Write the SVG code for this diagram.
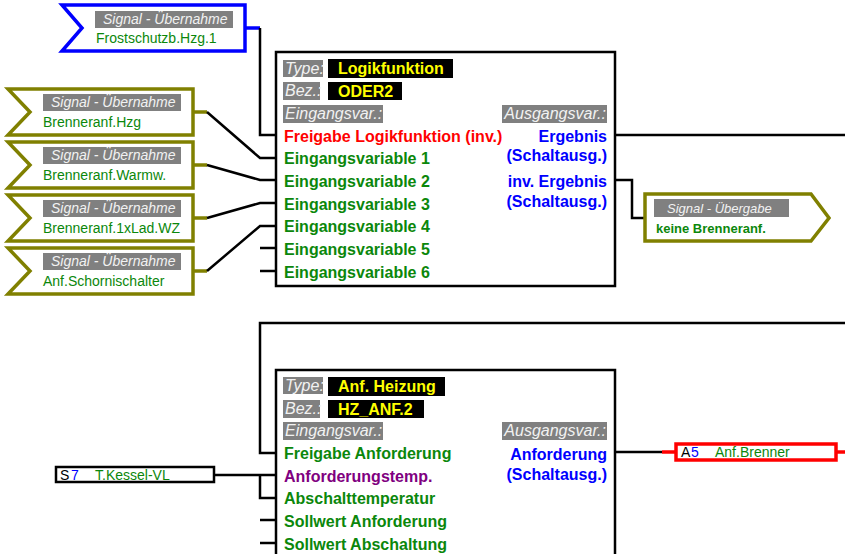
<svg xmlns="http://www.w3.org/2000/svg" width="845" height="554" viewBox="0 0 845 554">
<style>
text{font-family:"Liberation Sans",Arial,sans-serif}
.lbl{fill:#808080}
.lt{font-style:italic;font-size:16px;fill:#f2f2f2}
.st{font-style:italic;font-size:14px;fill:#f2f2f2}
.blk{fill:#000}
.yt{font-weight:bold;font-size:16px;fill:#ffff00}
.in{font-weight:bold;font-size:16px;fill:#0b870b}
.red{font-weight:bold;font-size:16px;fill:#ff0000}
.pur{font-weight:bold;font-size:16px;fill:#800080}
.out{font-weight:bold;font-size:16px;fill:#0000ff;text-anchor:end}
.sig{font-size:14px;fill:#0b870b}
.box{fill:#fff;stroke:#000;stroke-width:2.5}
.olive{fill:#fff;stroke:#808000;stroke-width:3.5}
.blue{fill:#fff;stroke:#0000ff;stroke-width:3.5}
.w{fill:none;stroke:#000;stroke-width:2.5}
.wo{fill:none;stroke:#808000;stroke-width:3.5}
.wb{fill:none;stroke:#0000ff;stroke-width:3.5}
.wr{fill:none;stroke:#ff0000;stroke-width:3.5}
</style>

<g id="connectors">
  <line class="wb" x1="245" y1="28" x2="260" y2="28"/>
  <polyline class="w" points="260,28 260,135 277,135"/>
  <line class="wo" x1="193" y1="112" x2="207" y2="112"/>
  <line class="wo" x1="193" y1="165" x2="207" y2="165"/>
  <line class="wo" x1="193" y1="218" x2="207" y2="218"/>
  <line class="wo" x1="193" y1="271" x2="207" y2="271"/>
  <polyline class="w" points="207,112 260,158 277,158"/>
  <polyline class="w" points="207,165 260,180 277,180"/>
  <polyline class="w" points="207,218 260,203 277,203"/>
  <polyline class="w" points="207,271 260,226 277,226"/>
  <line class="w" x1="260" y1="248" x2="277" y2="248"/>
  <line class="w" x1="260" y1="271" x2="277" y2="271"/>
  <line class="w" x1="615" y1="135" x2="845" y2="135"/>
  <polyline class="w" points="615,180 632,180 632,218 645,218"/>
  <polyline class="w" points="845,323 260,323 260,453 277,453"/>
  <line class="w" x1="214" y1="475" x2="277" y2="475"/>
  <polyline class="w" points="260,475 260,498 277,498"/>
  <line class="w" x1="260" y1="520" x2="277" y2="520"/>
  <line class="w" x1="260" y1="543" x2="277" y2="543"/>
  <line class="w" x1="615" y1="452" x2="662" y2="452"/>
  <line class="wr" x1="662" y1="452" x2="677" y2="452"/>
  <line class="wr" x1="836" y1="452" x2="845" y2="452"/>
</g>

<g id="sig-frostschutz" transform="translate(62,5)">
  <polygon class="blue" points="0,0 183,0 183,46 0,46 20,23"/>
  <rect class="lbl" x="33" y="6" width="138" height="17"/>
  <text class="st" x="41" y="19">Signal - Übernahme</text>
  <text class="sig" x="34" y="38">Frostschutzb.Hzg.1</text>
</g>

<g id="sig-hzg" transform="translate(8,89)">
  <polygon class="olive" points="0,0 185,0 185,46 0,46 22,23"/>
  <rect class="lbl" x="35" y="5" width="138" height="17"/>
  <text class="st" x="43" y="18">Signal - Übernahme</text>
  <text class="sig" x="35" y="38">Brenneranf.Hzg</text>
</g>

<g id="sig-warmw" transform="translate(8,142)">
  <polygon class="olive" points="0,0 185,0 185,46 0,46 22,23"/>
  <rect class="lbl" x="35" y="5" width="138" height="17"/>
  <text class="st" x="43" y="18">Signal - Übernahme</text>
  <text class="sig" x="35" y="38">Brenneranf.Warmw.</text>
</g>

<g id="sig-lad" transform="translate(8,195)">
  <polygon class="olive" points="0,0 185,0 185,46 0,46 22,23"/>
  <rect class="lbl" x="35" y="5" width="138" height="17"/>
  <text class="st" x="43" y="18">Signal - Übernahme</text>
  <text class="sig" x="35" y="38">Brenneranf.1xLad.WZ</text>
</g>

<g id="sig-schorn" transform="translate(8,248)">
  <polygon class="olive" points="0,0 185,0 185,46 0,46 22,23"/>
  <rect class="lbl" x="35" y="5" width="138" height="17"/>
  <text class="st" x="43" y="18">Signal - Übernahme</text>
  <text class="sig" x="35" y="38">Anf.Schornischalter</text>
</g>

<g id="oder2">
  <rect class="box" x="276" y="52" width="339" height="234"/>
  <rect class="lbl" x="283" y="60" width="40" height="17"/>
  <text class="lt" x="285" y="74">Type:</text>
  <rect class="blk" x="328" y="59" width="125" height="19"/>
  <text class="yt" x="338" y="74">Logikfunktion</text>
  <rect class="lbl" x="283" y="82" width="37" height="18"/>
  <text class="lt" x="285" y="96">Bez.:</text>
  <rect class="blk" x="328" y="82" width="74" height="18"/>
  <text class="yt" x="338" y="97">ODER2</text>
  <rect class="lbl" x="283" y="105" width="100" height="18"/>
  <text class="lt" x="285" y="119">Eingangsvar.:</text>
  <rect class="lbl" x="502" y="105" width="105" height="18"/>
  <text class="lt" x="606" y="119" text-anchor="end">Ausgangsvar.:</text>
  <text class="red" x="284" y="142">Freigabe Logikfunktion (inv.)</text>
  <text class="in" x="284" y="164">Eingangsvariable 1</text>
  <text class="in" x="284" y="187">Eingangsvariable 2</text>
  <text class="in" x="284" y="210">Eingangsvariable 3</text>
  <text class="in" x="284" y="232">Eingangsvariable 4</text>
  <text class="in" x="284" y="255">Eingangsvariable 5</text>
  <text class="in" x="284" y="278">Eingangsvariable 6</text>
  <text class="out" x="607" y="142">Ergebnis</text>
  <text class="out" x="607" y="161">(Schaltausg.)</text>
  <text class="out" x="607" y="187">inv. Ergebnis</text>
  <text class="out" x="607" y="207">(Schaltausg.)</text>
</g>

<g id="sig-keine">
  <polygon class="olive" points="645,194 811,194 829,218 811,241 645,241"/>
  <rect class="lbl" x="654" y="199" width="135" height="18"/>
  <text x="667" y="213" style="font-style:italic;font-size:13px;fill:#f2f2f2">Signal - Übergabe</text>
  <text x="656" y="233" style="font-weight:bold;font-size:13px;fill:#0b870b">keine Brenneranf.</text>
</g>

<g id="hz-anf2">
  <rect class="box" x="276" y="370" width="339" height="200"/>
  <rect class="lbl" x="283" y="377" width="40" height="17"/>
  <text class="lt" x="285" y="391">Type:</text>
  <rect class="blk" x="328" y="377" width="117" height="19"/>
  <text class="yt" x="338" y="392">Anf. Heizung</text>
  <rect class="lbl" x="283" y="400" width="37" height="18"/>
  <text class="lt" x="285" y="414">Bez.:</text>
  <rect class="blk" x="328" y="400" width="96" height="18"/>
  <text class="yt" x="338" y="415">HZ_ANF.2</text>
  <rect class="lbl" x="283" y="422" width="100" height="18"/>
  <text class="lt" x="285" y="436">Eingangsvar.:</text>
  <rect class="lbl" x="502" y="422" width="105" height="18"/>
  <text class="lt" x="606" y="436" text-anchor="end">Ausgangsvar.:</text>
  <text class="in" x="284" y="459">Freigabe Anforderung</text>
  <text class="pur" x="284" y="482">Anforderungstemp.</text>
  <text class="in" x="284" y="504">Abschalttemperatur</text>
  <text class="in" x="284" y="527">Sollwert Anforderung</text>
  <text class="in" x="284" y="550">Sollwert Abschaltung</text>
  <text class="out" x="607" y="460">Anforderung</text>
  <text class="out" x="607" y="480">(Schaltausg.)</text>
</g>

<g id="s7">
  <rect class="box" x="56" y="467" width="158" height="15"/>
  <text x="60" y="480" style="font-size:14px;fill:#000">S</text>
  <text x="71" y="480" style="font-size:14px;fill:#0000ff">7</text>
  <text class="sig" x="95" y="480">T.Kessel-VL</text>
</g>

<g id="a5">
  <rect x="676" y="444" width="160" height="16" style="fill:#fff;stroke:#ff0000;stroke-width:3.5"/>
  <text x="681" y="457" style="font-size:14px;fill:#000">A</text>
  <text x="691" y="457" style="font-size:14px;fill:#0000ff">5</text>
  <text class="sig" x="715" y="457">Anf.Brenner</text>
</g>
</svg>
